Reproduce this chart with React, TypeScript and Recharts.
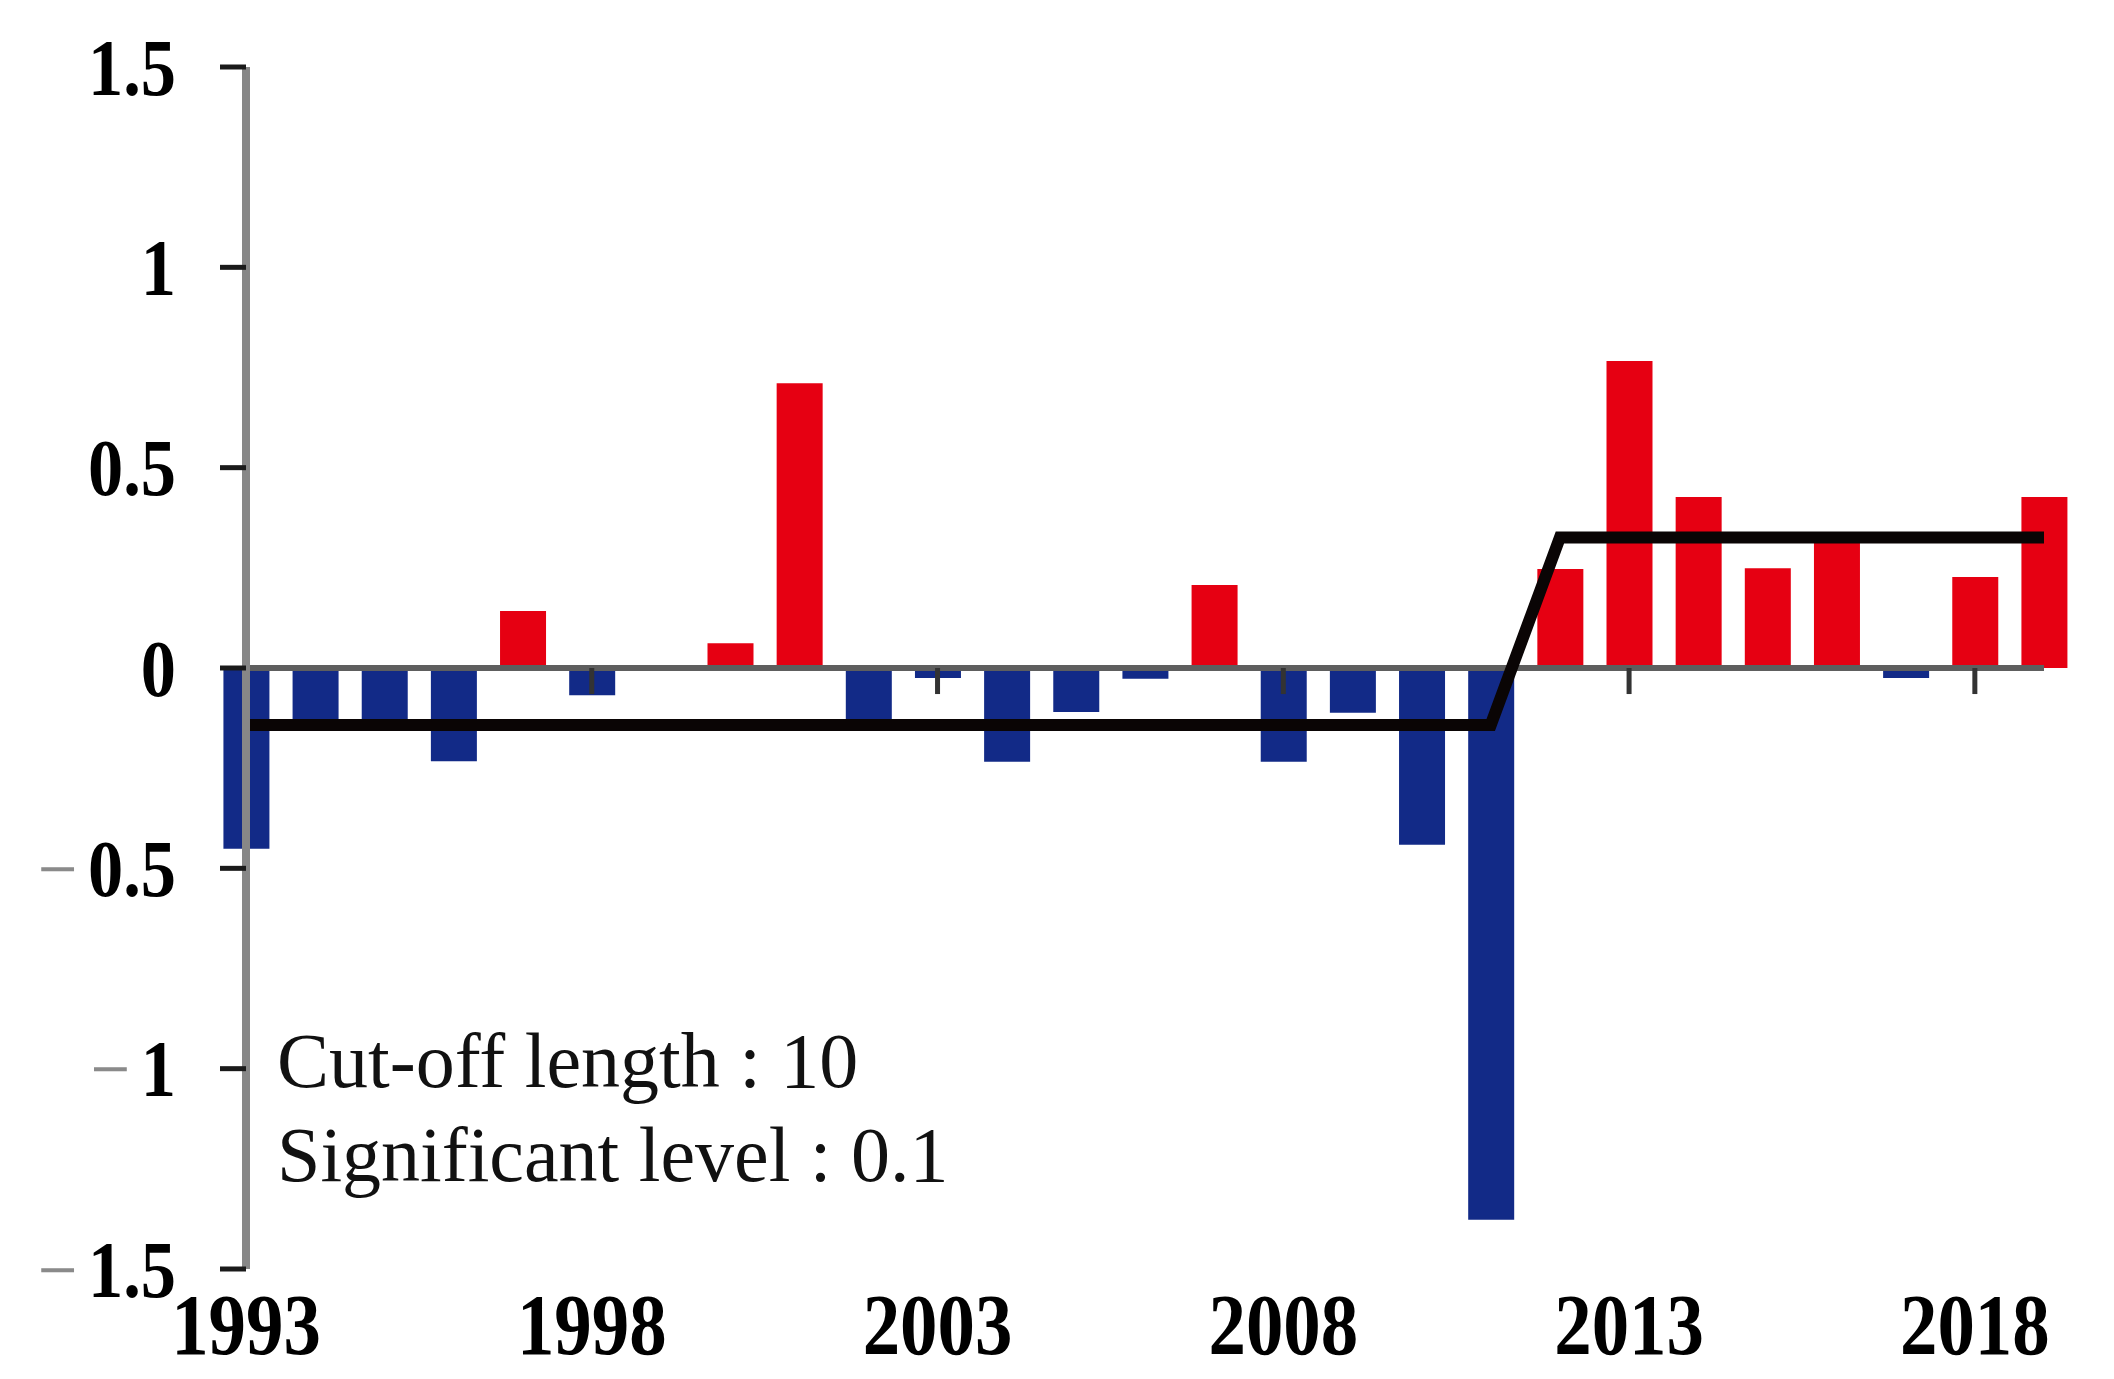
import React from 'react';
import { Bar, Cell, ComposedChart, Line, ReferenceLine, XAxis, YAxis } from 'recharts';

const years = [
  1993, 1994, 1995, 1996, 1997, 1998, 1999, 2000, 2001, 2002, 2003, 2004, 2005, 2006,
  2007, 2008, 2009, 2010, 2011, 2012, 2013, 2014, 2015, 2016, 2017, 2018, 2019,
];
const anomaly = [
  -0.451, -0.135, -0.135, -0.233, 0.142, -0.068, 0, 0.062, 0.711, -0.135, -0.025, -0.234,
  -0.11, -0.027, 0.207, -0.234, -0.112, -0.441, -1.377, 0.247, 0.766, 0.427, 0.249, 0.32,
  -0.025, 0.227, 0.427,
];
const segmentMean = [
  -0.142, -0.142, -0.142, -0.142, -0.142, -0.142, -0.142, -0.142, -0.142, -0.142, -0.142,
  -0.142, -0.142, -0.142, -0.142, -0.142, -0.142, -0.142, -0.142, 0.326, 0.326, 0.326,
  0.326, 0.326, 0.326, 0.326, 0.326,
];
const xTicks = [1993, 1998, 2003, 2008, 2013, 2018];
const yTicks = [-1.5, -1, -0.5, 0, 0.5, 1, 1.5];
const notes = ['Cut-off length : 10', 'Significant level : 0.1'];

const RED = '#e60012';
const BLUE = '#122a87';
const SERIF = '"Liberation Serif", "Times New Roman", serif';

const data = years.map((year, i) => ({ year, value: anomaly[i], mean: segmentMean[i] }));

const squeeze = (x: number, y: number, k: number) =>
  `translate(${x},${y}) scale(${k},1) translate(${-x},${-y})`;

const YTick = (props: any) => {
  const { x, y, payload } = props;
  const v = payload.value as number;
  const abs = String(Math.abs(v));
  return (
    <text
      x={x}
      y={y}
      textAnchor="end"
      dominantBaseline="central"
      fontFamily={SERIF}
      fontSize={80}
      transform={squeeze(x, y, 0.88)}
    >
      {v < 0 && (
        <tspan fill="#8a8a8a" fontWeight="normal">
          {'\u2212'}
        </tspan>
      )}
      <tspan dx={v < 0 ? 12 : 0} fontWeight="bold" fill="#000">
        {abs}
      </tspan>
    </text>
  );
};

const XTick = (props: any) => {
  const { x, y, payload } = props;
  const ty = y + 56;
  return (
    <text
      x={x}
      y={ty}
      textAnchor="middle"
      dominantBaseline="central"
      fontFamily={SERIF}
      fontWeight="bold"
      fontSize={86}
      fill="#000"
      transform={squeeze(x, ty, 0.87)}
    >
      {payload.value}
    </text>
  );
};

export default function App() {
  return (
    <div style={{ position: 'absolute', left: 0, top: 0, width: 2114, height: 1379, background: '#fff' }}>
      <ComposedChart
        width={2114}
        height={1379}
        data={data}
        margin={{ top: 67, right: 70, bottom: 10, left: 0 }}
      >
        <XAxis
          dataKey="year"
          type="number"
          domain={[1993, 2019]}
          ticks={xTicks}
          axisLine={false}
          tickLine={false}
          tickSize={0}
          tickMargin={0}
          height={100}
          tick={<XTick />}
          interval={0}
        />
        <YAxis
          type="number"
          domain={[-1.5, 1.5]}
          ticks={yTicks}
          width={246}
          axisLine={{ stroke: '#878787', strokeWidth: 8 }}
          tickLine={{ stroke: '#1a1a1a', strokeWidth: 5 }}
          tickSize={26}
          tickMargin={44}
          tick={<YTick />}
          interval={0}
        />
        <Bar dataKey="value" barSize={46} isAnimationActive={false}>
          {data.map((d) => (
            <Cell key={d.year} fill={d.value >= 0 ? RED : BLUE} />
          ))}
        </Bar>
        <ReferenceLine y={0} stroke="#5e5e5e" strokeWidth={6} />
        {xTicks.slice(1).map((yr) => (
          <ReferenceLine
            key={yr}
            segment={[
              { x: yr, y: 0 },
              { x: yr, y: -0.065 },
            ]}
            stroke="#333"
            strokeWidth={5}
          />
        ))}
        <Line
          dataKey="mean"
          type="linear"
          stroke="#0a0505"
          strokeWidth={12}
          dot={false}
          activeDot={false}
          isAnimationActive={false}
        />
      </ComposedChart>
      <svg
        width={2114}
        height={1379}
        style={{ position: 'absolute', left: 0, top: 0, pointerEvents: 'none' }}
      >
        {notes.map((t, i) => (
          <text key={t} x={277} y={1087 + i * 94} fontFamily={SERIF} fontSize={78} fill="#111">
            {t}
          </text>
        ))}
      </svg>
    </div>
  );
}
